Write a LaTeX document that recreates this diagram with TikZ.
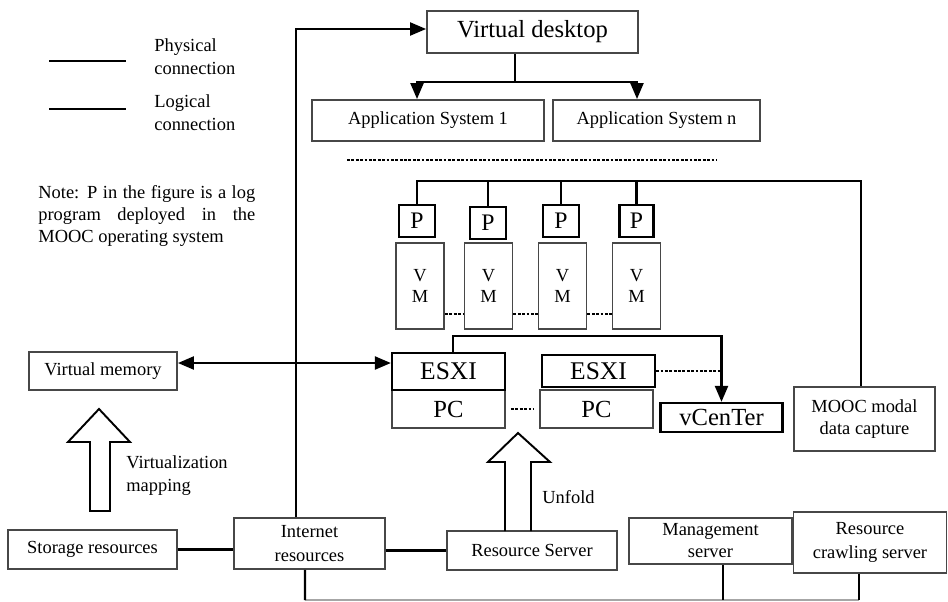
\documentclass[tikz,border=0pt]{standalone}
\usepackage{fontspec}
\setmainfont{Liberation Serif}
\usetikzlibrary{arrows.meta}

\begin{document}
\begin{tikzpicture}[x=0.02cm,y=-0.02cm,
	box/.style={draw=black!72,line width=1.1pt,inner sep=1pt,align=center,font=\fontsize{10.5}{12.5}\selectfont},
	bbox/.style={box,draw=black,line width=1.3pt},
	wire/.style={line width=1.25pt},
	arr/.style={wire,-{Triangle[length=0.32cm,width=0.26cm]}},
	dots/.style={wire,dash pattern=on 1.6pt off 0.9pt},
	txt/.style={inner sep=0pt,align=left,font=\fontsize{10.5}{13}\selectfont}]
	\useasboundingbox (0,0) rectangle (948,602);

	\draw[wire] (49,61) -- (126,61);
	\draw[wire] (49,109) -- (126,109);
	\node[txt,anchor=west] (phys) at (154,57) {Physical\\connection};
	\node[txt,anchor=west] (logi) at (154,113) {Logical\\connection};
	\node[txt,anchor=west,text width=4.34cm,align=justify,font=\fontsize{10.5}{12.5}\selectfont] (note) at (38,216) {Note: P in the figure is a log\linebreak program deployed in the\linebreak MOOC operating system};

	\node[box,minimum width=4.22cm,minimum height=0.84cm,font=\fontsize{14}{16}\selectfont] (desk) at (532.5,32) {Virtual desktop};
	\node[box,minimum width=4.64cm,minimum height=0.82cm] (app1) at (428,120.5) {Application System 1};
	\node[box,minimum width=4.14cm,minimum height=0.82cm] (appn) at (656.5,120.5) {Application System n};

	\node[bbox,minimum width=0.72cm,minimum height=0.64cm,font=\fontsize{13.5}{15}\selectfont] (p1) at (417,221) {P};
	\node[bbox,minimum width=0.72cm,minimum height=0.64cm,font=\fontsize{13.5}{15}\selectfont] (p2) at (488,223) {P};
	\node[bbox,minimum width=0.72cm,minimum height=0.64cm,font=\fontsize{13.5}{15}\selectfont] (p3) at (561,221) {P};
	\node[bbox,minimum width=0.68cm,minimum height=0.64cm,font=\fontsize{13.5}{15}\selectfont] (p4) at (636.5,221) {P};

	\node[box,minimum width=0.96cm,minimum height=1.72cm,font=\fontsize{10.5}{12}\selectfont] (vm1) at (420,286) {V\\M};
	\node[box,minimum width=0.96cm,minimum height=1.72cm,font=\fontsize{10.5}{12}\selectfont] (vm2) at (488.5,286) {V\\M};
	\node[box,minimum width=0.96cm,minimum height=1.72cm,font=\fontsize{10.5}{12}\selectfont] (vm3) at (562.5,286) {V\\M};
	\node[box,minimum width=0.96cm,minimum height=1.72cm,font=\fontsize{10.5}{12}\selectfont] (vm4) at (636.5,286) {V\\M};

	\node[box,minimum width=2.26cm,minimum height=0.76cm,font=\fontsize{14}{16}\selectfont] (pc1) at (448.5,409) {PC};
	\node[bbox,minimum width=2.26cm,minimum height=0.74cm,font=\fontsize{14.5}{16}\selectfont] (esx1) at (448.5,371.5) {ESXI};
	\node[box,minimum width=2.26cm,minimum height=0.76cm,font=\fontsize{14}{16}\selectfont] (pc2) at (596.5,409) {PC};
	\node[bbox,minimum width=2.26cm,minimum height=0.64cm,font=\fontsize{14.5}{16}\selectfont] (esx2) at (598.5,371) {ESXI};
	\node[bbox,minimum width=2.44cm,minimum height=0.58cm,font=\fontsize{14}{16}\selectfont] (vcen) at (721.5,417.5) {vCenTer};
	\node[box,minimum width=2.82cm,minimum height=1.28cm] (mooc) at (864.5,419) {MOOC modal\\data capture};

	\node[box,minimum width=2.96cm,minimum height=0.76cm] (vmem) at (103,371) {Virtual memory};
	\node[box,minimum width=3.38cm,minimum height=0.78cm] (store) at (92.5,549.5) {Storage resources};
	\node[box,minimum width=3.02cm,minimum height=1.02cm,font=\fontsize{10.5}{13.5}\selectfont] (inet) at (309.5,543.5) {Internet\\resources};
	\node[box,minimum width=3.4cm,minimum height=0.78cm] (rsrv) at (532,550.5) {Resource Server};
	\node[box,minimum width=3.26cm,minimum height=0.92cm] (mgmt) at (710.5,541) {Management\\server};
	\node[box,minimum width=3.06cm,minimum height=1.22cm,font=\fontsize{10.5}{13.5}\selectfont] (crawl) at (870,542.5) {Resource\\crawling server};

	\draw[arr] ([xshift=-0.27cm]inet.north) |- ([yshift=0.06cm]desk.west);
	\coordinate (dsplit) at (515,82);
	\draw[wire] (desk.south -| dsplit) -- (dsplit);
	\draw[arr] (dsplit) -| ([xshift=-0.22cm]app1.north);
	\draw[arr] (dsplit) -| ([xshift=-0.39cm]appn.north);
	\draw[dots] (347,160) -- (717,160);

	\coordinate (bus) at (417,181);
	\draw[wire] (p1.north) -- (bus) -| ([xshift=-0.07cm]mooc.north);
	\draw[wire] (p2.north) -- (p2.north |- bus);
	\draw[wire] (p3.north) -- (p3.north |- bus);
	\draw[wire] (p4.north) -- (p4.north |- bus);

	\draw[dots] ([yshift=-0.56cm]vm1.east) -- ([yshift=-0.56cm]vm2.west);
	\draw[dots] ([yshift=-0.56cm]vm2.east) -- ([yshift=-0.56cm]vm3.west);
	\draw[dots] ([yshift=-0.56cm]vm3.east) -- ([yshift=-0.56cm]vm4.west);

	\draw[arr] ([xshift=0.09cm]esx1.north) -- ++(0,-16) -| (vcen.north);
	\draw[dots] (esx2.east) -- (esx2.east -| vcen.north);
	\draw[dots] ([xshift=0.1cm]pc1.east) -- ([xshift=-0.1cm]pc2.west);
	\draw[wire,{Triangle[length=0.32cm,width=0.26cm]}-{Triangle[length=0.32cm,width=0.26cm]}] ([yshift=0.16cm]vmem.east) -- ([yshift=0.16cm]vmem.east -| esx1.west);

	\draw[line width=1.1pt] (90,511) -- (90,442) -- (68,442) -- (99,409) -- (130,442) -- (110,442) -- (110,511) -- cycle;
	\node[txt,anchor=west] (vmap) at (126,475.5) {Virtualization\\mapping};
	\draw[line width=1.1pt] (505,531) -- (505,462) -- (488,462) -- (518,433) -- (550,462) -- (531,462) -- (531,531);
	\node[txt,anchor=west] (unf) at (542,497) {Unfold};

	\draw[wire] (store.east) -- (store.east -| inet.west);
	\draw[wire] (rsrv.west -| inet.east) -- (rsrv.west);

	\coordinate (base) at (305,600);
	\coordinate (cdrop) at ([xshift=-0.22cm]crawl.south);
	\draw[black!35,line width=0.9pt] (base) -- (base -| cdrop);
	\draw[wire] ([xshift=-0.09cm]inet.south) -- (base);
	\draw[wire] ([xshift=0.25cm]mgmt.south) -- ([xshift=0.25cm]mgmt.south |- base);
	\draw[wire] (cdrop) -- (cdrop |- base);
\end{tikzpicture}
\end{document}
